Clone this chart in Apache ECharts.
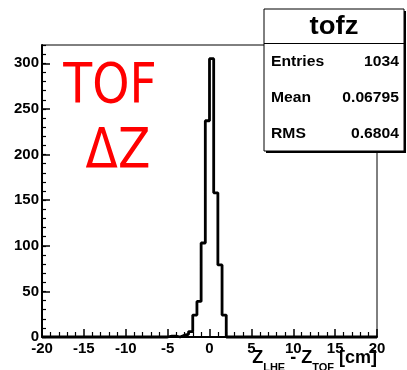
<!DOCTYPE html>
<html><head><meta charset="utf-8">
<script src="https://cdn.jsdelivr.net/npm/echarts/dist/echarts.min.js"></script>
<style>html,body{margin:0;padding:0;background:#fff}#c{width:407px;height:370px}</style>
</head><body><div id="c"></div>
<script>
// Histogram tofz: Z_LHE - Z_TOF [cm]
const xRange = [-20, 20];
const yRange = [0, 320];
const binStart = -5.0;
const binWidth = 0.5;
const counts = [1, 1, 0, 2, 3, 6, 24, 39, 103, 237, 305, 158, 79, 24];
const statsTitle = 'tofz';
const statsLabels = ['Entries', 'Mean', 'RMS'];
const statsValues = ['1034', '0.06795', '0.6804'];
const bigLabel = ['TOF', 'ΔZ'];

const pts = [[xRange[0], 0], [binStart, 0]];
counts.forEach((c, i) => pts.push([binStart + i * binWidth, c]));
pts.push([binStart + counts.length * binWidth, 0]);
pts.push([xRange[1], 0]);

const FONT = 'Liberation Sans';
const chart = echarts.init(document.getElementById('c'), null, {renderer: 'canvas'});
const labelStyle = {color: '#000', fontFamily: FONT, fontWeight: 'bold', fontSize: 15};

const statsEls = [
  {type: 'rect', shape: {x: 266, y: 11, width: 140, height: 142}, style: {fill: '#000'}, z: 100},
  {type: 'rect', shape: {x: 264, y: 9, width: 140, height: 142}, style: {fill: '#fff', stroke: '#000', lineWidth: 1}, z: 101},
  {type: 'line', shape: {x1: 264, y1: 43.5, x2: 404, y2: 43.5}, style: {stroke: '#000', lineWidth: 1}, z: 102},
  {type: 'text', x: 334, y: 27, style: {text: statsTitle, fill: '#000', font: 'bold 25px ' + FONT, textAlign: 'center', textVerticalAlign: 'middle'}, scaleX: 1.1, z: 103}
];
statsLabels.forEach((lab, i) => {
  const yy = 62 + i * 36;
  statsEls.push({type: 'text', x: 271, y: yy, scaleX: 1.12, style: {text: lab, fill: '#000', font: 'bold 14px ' + FONT, textAlign: 'left', textVerticalAlign: 'middle'}, z: 103});
  statsEls.push({type: 'text', x: 399, y: yy, scaleX: 1.12, style: {text: statsValues[i], fill: '#000', font: 'bold 14px ' + FONT, textAlign: 'right', textVerticalAlign: 'middle'}, z: 103});
});

const option = {
  animation: false,
  backgroundColor: '#fff',
  grid: {left: 42, right: 30, top: 45, bottom: 33, show: true, borderColor: '#000', borderWidth: 1, backgroundColor: 'transparent'},
  xAxis: {
    type: 'value', min: xRange[0], max: xRange[1], interval: 5,
    axisLine: {show: true, onZero: false, lineStyle: {color: '#000', width: 2}},
    axisTick: {show: true, inside: true, length: 8, lineStyle: {color: '#000', width: 1.5}},
    minorTick: {show: true, splitNumber: 5, length: 5, lineStyle: {color: '#000', width: 1.2}},
    splitLine: {show: false}, minorSplitLine: {show: false},
    axisLabel: Object.assign({margin: 4}, labelStyle)
  },
  yAxis: [{
    type: 'value', min: yRange[0], max: yRange[1], interval: 50, position: 'left',
    axisLine: {show: true, onZero: false, lineStyle: {color: '#000', width: 2}},
    axisTick: {show: true, inside: true, length: 8, lineStyle: {color: '#000', width: 1.5}},
    splitLine: {show: false},
    axisLabel: Object.assign({margin: 3, showMaxLabel: false, formatter: v => (v % 50 === 0 ? String(v) : '')}, labelStyle)
  }, {
    type: 'value', min: yRange[0], max: yRange[1], interval: 10, position: 'left', offset: 0,
    axisLine: {show: false, onZero: false},
    axisTick: {show: true, inside: true, length: 4, lineStyle: {color: '#000', width: 1.2}},
    splitLine: {show: false},
    axisLabel: {show: false}
  }],
  series: [{
    type: 'line', step: 'end', data: pts, symbol: 'none', silent: true,
    lineStyle: {color: '#000', width: 2.8}, z: 5, clip: false
  }],
  graphic: [
    {type: 'text', x: 110, y: 88, scaleX: 0.86, style: {text: bigLabel[0], fill: '#f00', font: '55px DejaVu Sans', textAlign: 'center', textVerticalAlign: 'middle'}, z: 50},
    {type: 'text', x: 118, y: 153, scaleX: 0.86, style: {text: bigLabel[1], fill: '#f00', font: '55px DejaVu Sans', textAlign: 'center', textVerticalAlign: 'middle'}, z: 50},
    {type: 'text', x: 377, y: 343, z: 60, style: {
      text: 'Z{s|LHE} - Z{s|TOF} [cm]', textAlign: 'right', textVerticalAlign: 'top', fill: '#000',
      font: 'bold 18px ' + FONT,
      rich: {s: {fontSize: 11, fontWeight: 'bold', fontFamily: FONT, fill: '#000', padding: [19, 0, 0, 0], verticalAlign: 'top'}}
    }},
    ...statsEls
  ]
};
chart.setOption(option);
</script>
</body></html>
